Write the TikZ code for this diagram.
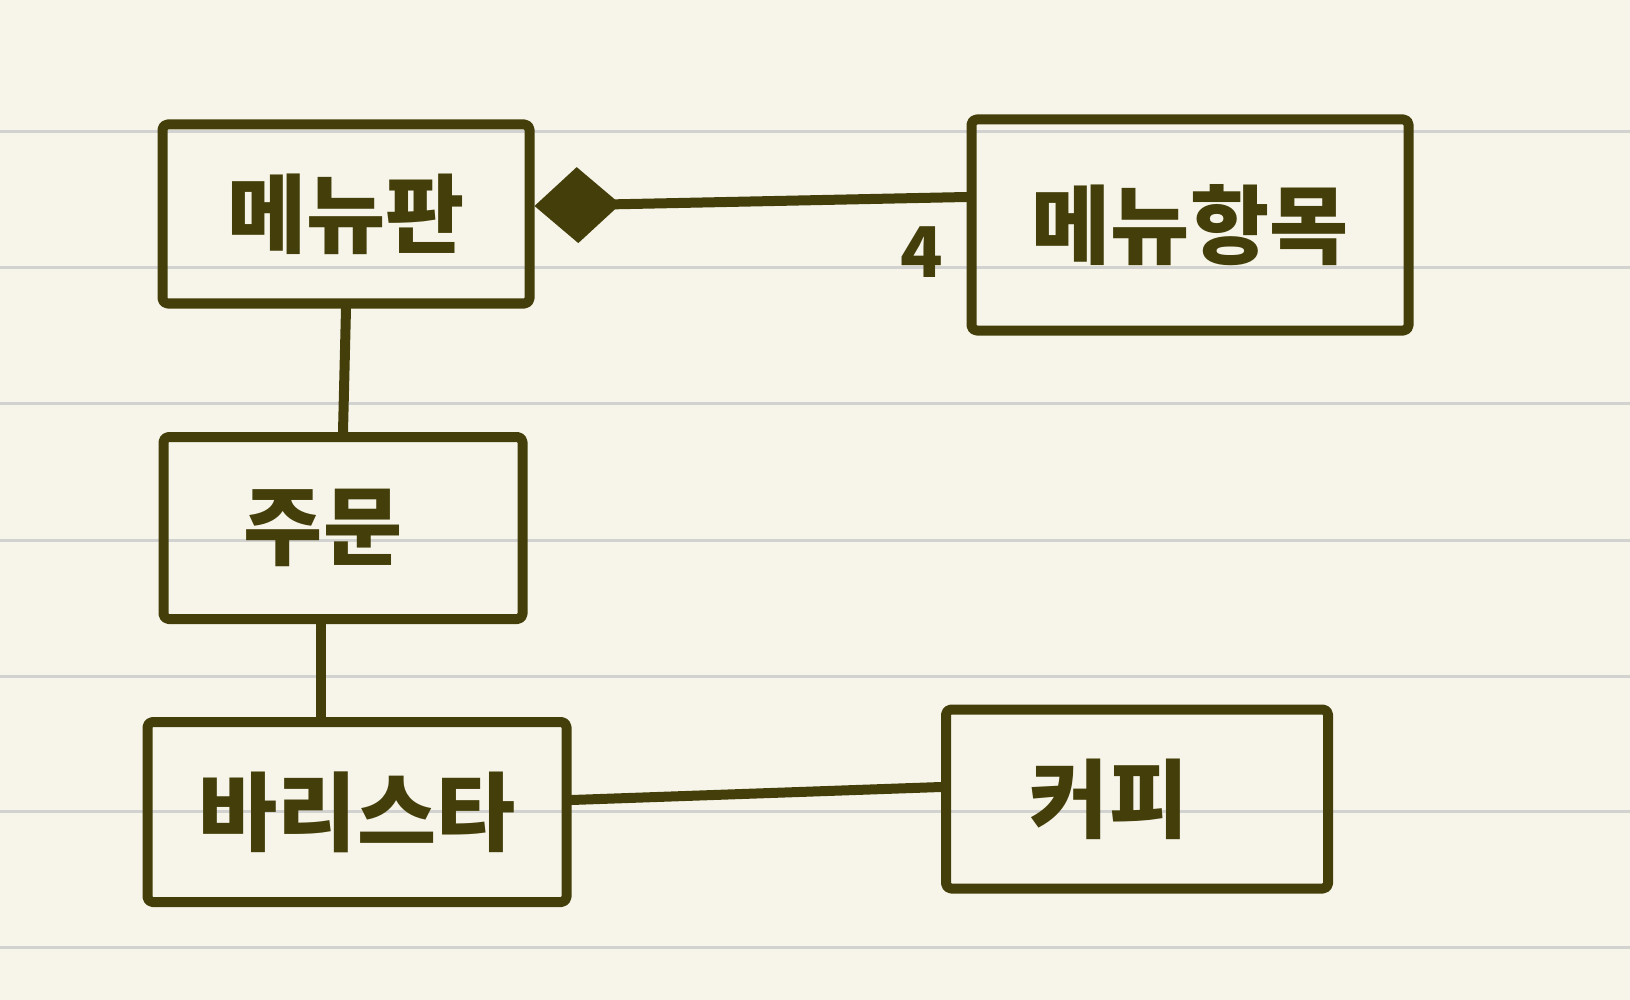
\documentclass[tikz,border=0pt]{standalone}
\usepackage{fontspec}
\setmainfont{Noto Sans CJK KR}
\usetikzlibrary{arrows.meta,calc}
\definecolor{paper}{HTML}{F7F5EA}
\definecolor{rule}{HTML}{D2D2D0}
\definecolor{ink}{HTML}{443F0A}
\tikzset{
  box/.style={draw=ink, line width=10pt, rounded corners=5pt, rectangle, inner sep=0pt,
    text=ink, font=\fontsize{86}{96}\selectfont\bfseries, line cap=round, line join=round},
  conn/.style={draw=ink, line width=10pt, line cap=round},
  ruleline/.style={draw=rule, line width=3pt},
  mult/.style={text=ink, font=\fontsize{70}{80}\selectfont\bfseries, inner sep=0pt},
}
\begin{document}
\begin{tikzpicture}[x=1pt,y=-1pt]
\fill[paper] (0,0) rectangle (1630,1000);
\useasboundingbox (0,0) rectangle (1630,1000);
\foreach \yy in {132,268,403,540,676,811,947}
  \draw[ruleline] (0,\yy) -- (1630,\yy);
\node[box, minimum width=367pt, minimum height=179pt] (mb) at (346,214) {메뉴판};
\node[box, minimum width=437pt, minimum height=211pt] (mi) at (1190,225) {메뉴항목};
\node[box, minimum width=359pt, minimum height=182pt] (ord) at (343,528) {\hspace*{-40pt}주문};
\node[box, minimum width=419pt, minimum height=180pt] (bar) at (357,812) {바리스타};
\node[box, minimum width=382pt, minimum height=179pt] (cof) at (1137,799) {\hspace*{-56pt}커피};
\node[mult] (four) at (922,252) {4};
% composition
\draw[conn, {Diamond[length=86pt,width=76pt,fill=ink]}-] ($(mb.east)+(0,-8)$) -- ($(mi.west)+(0,-28)$);
% order links
\draw[conn] (mb.south) -- (ord.north);
\coordinate (os) at ($(ord.south)+(-22,0)$);
\draw[conn] (os) -- (os |- bar.north);
\draw[conn] ($(bar.east)+(0,-12)$) -- ($(cof.west)+(0,-12)$);
\end{tikzpicture}
\end{document}
